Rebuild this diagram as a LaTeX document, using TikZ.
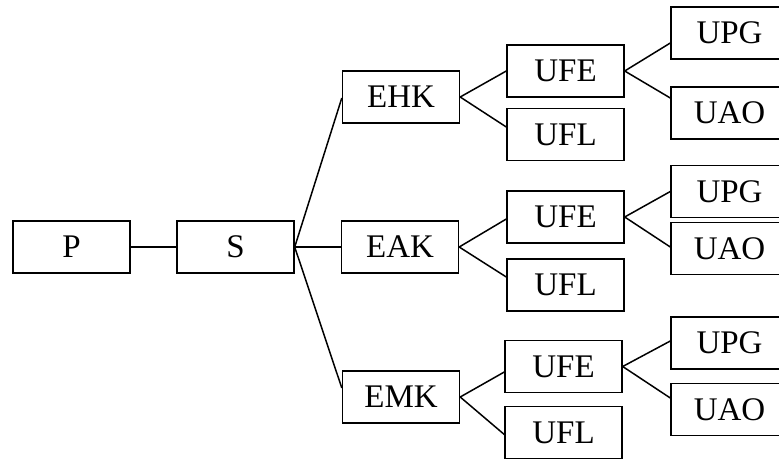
\documentclass[tikz,border=0pt]{standalone}
\usepackage{fontspec}
\setmainfont{Liberation Serif}
\usetikzlibrary{calc}
\tikzset{
  box/.style={draw, line width=1.4pt, minimum width=117pt, minimum height=52pt, inner sep=0pt, font=\fontsize{33}{36}\selectfont},
  conn/.style={line width=1.5pt}
}
\begin{document}
\begin{tikzpicture}[x=1pt,y=-1pt]
\useasboundingbox (0,0) rectangle (779,459);
\clip (0,0) rectangle (779,459);
\fill[white] (0,0) rectangle (779,459);
% nodes
\node[box] (P) at (71.5,247) {P};
\node[box] (S) at (235.5,247) {S};
\node[box] (EHK) at (401,97) {EHK};
\node[box] (EAK) at (400,247) {EAK};
\node[box] (EMK) at (401,397) {EMK};
\node[box] (UFE1) at (565.5,71) {UFE};
\node[box] (UFL1) at (565.5,134.5) {UFL};
\node[box] (UPG1) at (729.5,33) {UPG};
\node[box] (UAO1) at (729.5,113) {UAO};
\node[box] (UFE2) at (565.5,217) {UFE};
\node[box] (UFL2) at (565.5,285) {UFL};
\node[box] (UPG2) at (729.5,191.5) {UPG};
\node[box] (UAO2) at (729.5,248.5) {UAO};
\node[box] (UFE3) at (563.5,366.5) {UFE};
\node[box] (UFL3) at (563.5,432.5) {UFL};
\node[box] (UPG3) at (729.5,343) {UPG};
\node[box] (UAO3) at (729.5,409.5) {UAO};
% connectors
\draw[conn] (P.east) -- (S.east -| S.west);
\draw[conn] (S.east) -- ($(EHK.west)+(0,1)$);
\draw[conn] (S.east) -- (EAK.west);
\draw[conn] (S.east) -- ($(EMK.west)+(0,-9)$);
\draw[conn] (EHK.east) -- (UFE1.west);
\draw[conn] (EHK.east) -- ($(UFL1.west)+(0,-7.5)$);
\draw[conn] (UFE1.east) -- ($(UPG1.west)+(0,10)$);
\draw[conn] (UFE1.east) -- ($(UAO1.west)+(0,-15)$);
\draw[conn] (EAK.east) -- ($(UFE2.west)+(0,2)$);
\draw[conn] (EAK.east) -- ($(UFL2.west)+(0,-8)$);
\draw[conn] (UFE2.east) -- (UPG2.west);
\draw[conn] (UFE2.east) -- ($(UAO2.west)+(0,-1.5)$);
\draw[conn] (EMK.east) -- ($(UFE3.west)+(0,5.5)$);
\draw[conn] (EMK.east) -- ($(UFL3.west)+(0,2)$);
\draw[conn] (UFE3.east) -- ($(UPG3.west)+(0,-2)$);
\draw[conn] (UFE3.east) -- ($(UAO3.west)+(0,-11.5)$);
\end{tikzpicture}
\end{document}
